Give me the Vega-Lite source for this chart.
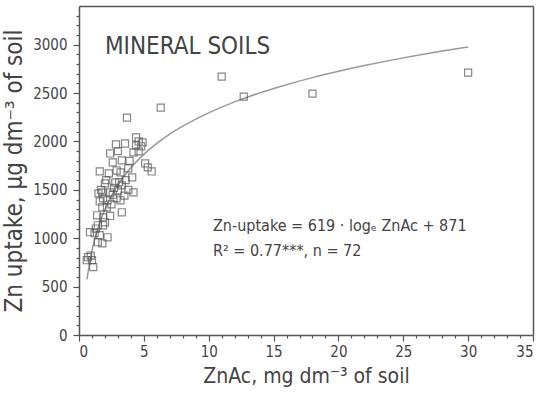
{
  "$schema": "https://vega.github.io/schema/vega-lite/v6.json",
  "width": 454,
  "height": 329,
  "autosize": {"type": "none"},
  "padding": {"left": 79, "top": 6, "right": 11, "bottom": 66},
  "config": {
    "view": {"stroke": null},
    "font": "DejaVu Sans Condensed",
    "axis": {"gridOpacity": 0, "domainColor": "#555", "domainWidth": 1.5, "tickColor": "#555", "tickWidth": 1.2, "labelColor": "#444", "titleColor": "#444", "labelFont": "DejaVu Sans Condensed", "titleFont": "DejaVu Sans Condensed", "labelFontSize": 15, "titleFontSize": 21, "titleFontWeight": "normal"}
  },
  "datasets": {
    "points": [
      {"zn_ac": 30.0, "uptake": 2711}, {"zn_ac": 18.0, "uptake": 2495}, {"zn_ac": 12.7, "uptake": 2464},
      {"zn_ac": 11.0, "uptake": 2670}, {"zn_ac": 6.3, "uptake": 2350}, {"zn_ac": 3.7, "uptake": 2247},
      {"zn_ac": 4.4, "uptake": 2041}, {"zn_ac": 4.6, "uptake": 2000}, {"zn_ac": 2.85, "uptake": 1969},
      {"zn_ac": 3.55, "uptake": 1979}, {"zn_ac": 4.4, "uptake": 1960}, {"zn_ac": 4.8, "uptake": 1950},
      {"zn_ac": 4.9, "uptake": 1990}, {"zn_ac": 4.2, "uptake": 1887}, {"zn_ac": 4.6, "uptake": 1897},
      {"zn_ac": 2.4, "uptake": 1876}, {"zn_ac": 3.0, "uptake": 1900}, {"zn_ac": 2.6, "uptake": 1784},
      {"zn_ac": 3.3, "uptake": 1804}, {"zn_ac": 5.1, "uptake": 1773}, {"zn_ac": 5.3, "uptake": 1732},
      {"zn_ac": 5.6, "uptake": 1690}, {"zn_ac": 1.6, "uptake": 1691}, {"zn_ac": 2.3, "uptake": 1670},
      {"zn_ac": 3.2, "uptake": 1680}, {"zn_ac": 3.8, "uptake": 1722}, {"zn_ac": 4.1, "uptake": 1629},
      {"zn_ac": 2.0, "uptake": 1567}, {"zn_ac": 2.8, "uptake": 1577}, {"zn_ac": 3.3, "uptake": 1546},
      {"zn_ac": 3.6, "uptake": 1600}, {"zn_ac": 1.5, "uptake": 1464}, {"zn_ac": 1.8, "uptake": 1474},
      {"zn_ac": 2.4, "uptake": 1474}, {"zn_ac": 3.0, "uptake": 1495}, {"zn_ac": 4.2, "uptake": 1474},
      {"zn_ac": 3.8, "uptake": 1500}, {"zn_ac": 1.85, "uptake": 1412}, {"zn_ac": 2.2, "uptake": 1392},
      {"zn_ac": 2.9, "uptake": 1412}, {"zn_ac": 3.2, "uptake": 1392}, {"zn_ac": 2.6, "uptake": 1450},
      {"zn_ac": 1.8, "uptake": 1320}, {"zn_ac": 2.15, "uptake": 1320}, {"zn_ac": 3.3, "uptake": 1268},
      {"zn_ac": 1.4, "uptake": 1237}, {"zn_ac": 1.85, "uptake": 1216}, {"zn_ac": 2.0, "uptake": 1165},
      {"zn_ac": 1.45, "uptake": 1134}, {"zn_ac": 1.85, "uptake": 1134}, {"zn_ac": 0.85, "uptake": 1062},
      {"zn_ac": 1.2, "uptake": 1052}, {"zn_ac": 1.6, "uptake": 1031}, {"zn_ac": 2.2, "uptake": 1010},
      {"zn_ac": 1.45, "uptake": 959}, {"zn_ac": 1.8, "uptake": 948}, {"zn_ac": 0.7, "uptake": 804},
      {"zn_ac": 1.0, "uptake": 773}, {"zn_ac": 1.1, "uptake": 701}, {"zn_ac": 0.6, "uptake": 773},
      {"zn_ac": 2.5, "uptake": 1350}, {"zn_ac": 2.7, "uptake": 1520}, {"zn_ac": 3.5, "uptake": 1440},
      {"zn_ac": 2.1, "uptake": 1600}, {"zn_ac": 1.7, "uptake": 1500}, {"zn_ac": 2.9, "uptake": 1700},
      {"zn_ac": 3.9, "uptake": 1800}, {"zn_ac": 1.3, "uptake": 1100}, {"zn_ac": 2.4, "uptake": 1230},
      {"zn_ac": 1.6, "uptake": 1380}, {"zn_ac": 3.1, "uptake": 1580}, {"zn_ac": 0.9, "uptake": 820}
    ],
    "fit": [
      {"zn_ac": 0.62, "uptake": 575}, {"zn_ac": 0.7, "uptake": 650}, {"zn_ac": 0.8, "uptake": 733},
      {"zn_ac": 1.0, "uptake": 871}, {"zn_ac": 1.25, "uptake": 1009}, {"zn_ac": 1.5, "uptake": 1122},
      {"zn_ac": 2.0, "uptake": 1300}, {"zn_ac": 2.5, "uptake": 1438}, {"zn_ac": 3.0, "uptake": 1551},
      {"zn_ac": 4.0, "uptake": 1729}, {"zn_ac": 5.0, "uptake": 1867}, {"zn_ac": 6.0, "uptake": 1980},
      {"zn_ac": 7.0, "uptake": 2076}, {"zn_ac": 8.0, "uptake": 2158}, {"zn_ac": 10.0, "uptake": 2296},
      {"zn_ac": 12.0, "uptake": 2409}, {"zn_ac": 14.0, "uptake": 2505}, {"zn_ac": 16.0, "uptake": 2587},
      {"zn_ac": 18.0, "uptake": 2660}, {"zn_ac": 20.0, "uptake": 2725}, {"zn_ac": 22.0, "uptake": 2784},
      {"zn_ac": 24.0, "uptake": 2838}, {"zn_ac": 26.0, "uptake": 2888}, {"zn_ac": 28.0, "uptake": 2934},
      {"zn_ac": 30.0, "uptake": 2976}
    ]
  },
  "resolve": {"axis": {"x": "independent", "y": "independent"}},
  "layer": [
    {
      "data": {"name": "fit"},
      "mark": {"type": "line", "color": "#999", "strokeWidth": 1.5, "interpolate": "monotone"},
      "encoding": {
        "x": {"field": "zn_ac", "type": "quantitative", "scale": {"domain": [0, 35], "nice": false},
              "axis": {"orient": "bottom", "values": [1,2,3,4,6,7,8,9,11,12,13,14,16,17,18,19,21,22,23,24,26,27,28,29,31,32,33,34], "tickSize": 3, "labels": false, "domain": false, "title": null}},
        "y": {"field": "uptake", "type": "quantitative", "scale": {"domain": [0, 3400], "nice": false},
              "axis": {"orient": "left", "values": [100,200,300,400,600,700,800,900,1100,1200,1300,1400,1600,1700,1800,1900,2100,2200,2300,2400,2600,2700,2800,2900,3100,3200,3300], "tickSize": 3, "labels": false, "domain": false, "title": null}}
      }
    },
    {
      "data": {"name": "points"},
      "mark": {"type": "point", "shape": "square", "size": 50, "filled": false, "stroke": "#555", "strokeWidth": 1.2},
      "encoding": {
        "x": {"field": "zn_ac", "type": "quantitative",
              "axis": {"orient": "bottom", "values": [0,5,10,15,20,25,30,35], "format": "d", "tickSize": 6, "labelPadding": 3, "title": "ZnAc, mg dm⁻³ of soil", "titlePadding": 6}},
        "y": {"field": "uptake", "type": "quantitative",
              "axis": {"orient": "left", "values": [0,500,1000,1500,2000,2500,3000], "format": "d", "tickSize": 6, "labelPadding": 6, "title": "Zn uptake, µg dm⁻³ of soil", "titleFontSize": 24, "titlePadding": 6}}
      }
    },
    {
      "data": {"values": [{"label": "MINERAL SOILS"}]},
      "mark": {"type": "text", "align": "left", "baseline": "alphabetic", "fontSize": 24, "color": "#444"},
      "encoding": {
        "x": {"datum": 2.0, "type": "quantitative",
              "axis": {"orient": "top", "ticks": false, "labels": false, "domain": true, "title": null}},
        "y": {"datum": 2907, "type": "quantitative",
              "axis": {"orient": "right", "ticks": false, "labels": false, "domain": true, "title": null}},
        "text": {"field": "label"}
      }
    },
    {
      "data": {"values": [{"label": "Zn-uptake = 619 · logₑ ZnAc + 871", "row": 1072}, {"label": "R² = 0.77***, n = 72", "row": 814}]},
      "mark": {"type": "text", "align": "left", "baseline": "alphabetic", "fontSize": 16, "color": "#444"},
      "encoding": {
        "x": {"datum": 10.33, "type": "quantitative", "axis": null},
        "y": {"field": "row", "type": "quantitative", "axis": null},
        "text": {"field": "label"}
      }
    }
  ]
}
